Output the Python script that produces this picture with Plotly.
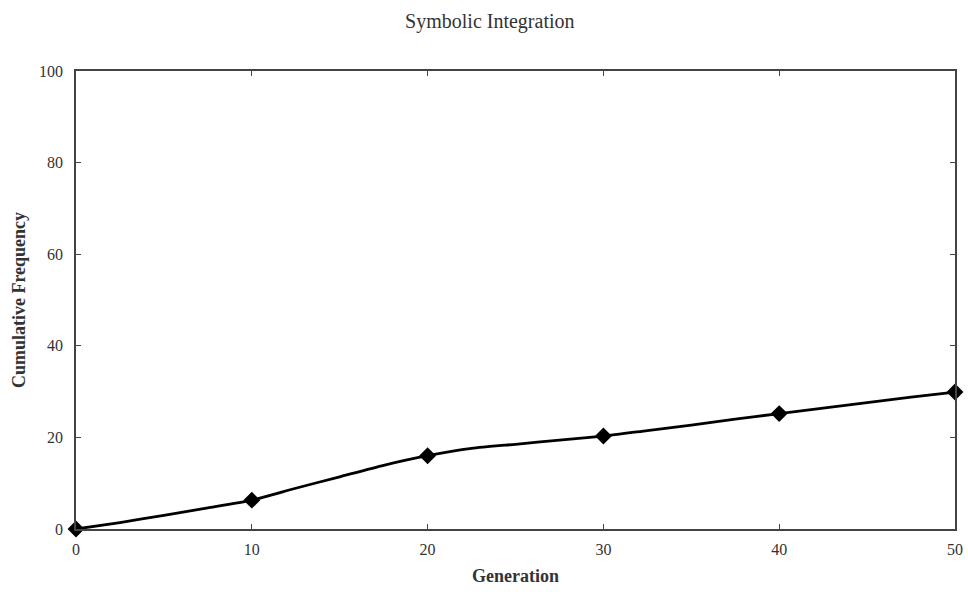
import plotly.graph_objects as go

# Cumulative frequency sampled every 2.5 generations
generations = [0, 2.5, 5, 7.5, 10, 12.5, 15, 17.5, 20, 22.5, 25, 27.5, 30,
               32.5, 35, 37.5, 40, 42.5, 45, 47.5, 50]
frequency = [0, 1.4, 3.0, 4.6, 6.3, 8.9, 11.4, 13.9, 16.0, 17.6, 18.5, 19.4, 20.3,
             21.5, 22.7, 24.0, 25.2, 26.4, 27.6, 28.8, 29.9]

# Marked generations
marker_gen = [0, 10, 20, 30, 40, 50]
marker_freq = [0, 6.3, 16.0, 20.3, 25.2, 29.9]

x_ticks = [0, 10, 20, 30, 40, 50]
y_ticks = [0, 20, 40, 60, 80, 100]

serif = "Liberation Serif, Times New Roman, serif"
ink = "#333"

fig = go.Figure()
fig.add_trace(go.Scatter(
    x=generations, y=frequency, mode="lines",
    line=dict(color="black", width=2.8, shape="spline", smoothing=0.6),
    hoverinfo="skip", showlegend=False,
))
fig.add_trace(go.Scatter(
    x=marker_gen, y=marker_freq, mode="markers",
    marker=dict(symbol="diamond", size=13, color="black"),
    showlegend=False, cliponaxis=False,
))

axis_common = dict(
    showgrid=False, zeroline=False, showline=True, linecolor="#444",
    linewidth=1.5, mirror="ticks", ticks="inside", ticklen=5,
    tickcolor="#444", tickwidth=1, automargin=False,
    tickfont=dict(family=serif, size=16, color=ink),
)

fig.update_layout(
    width=968, height=592,
    margin=dict(l=76, r=13, t=71, b=63),
    paper_bgcolor="white", plot_bgcolor="white",
    title=dict(text="Symbolic Integration", x=0.506, xanchor="center",
               y=0.965, yanchor="middle",
               font=dict(family=serif, size=20, color=ink)),
    xaxis=dict(range=[0, 50], tickvals=x_ticks, ticklabelstandoff=5,
               title=dict(text="<b>Generation</b>", standoff=12,
                          font=dict(family=serif, size=18, color=ink)),
               **axis_common),
    yaxis=dict(range=[0, 100], tickvals=y_ticks, ticklabelstandoff=8,
               title=dict(text="<b>Cumulative Frequency</b>", standoff=9,
                          font=dict(family=serif, size=18, color=ink)),
               **axis_common),
)

fig.write_html("out.html")
